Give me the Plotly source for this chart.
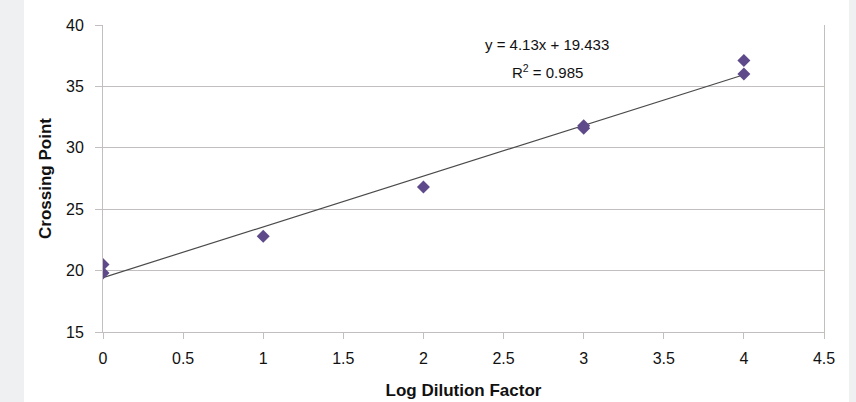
import plotly.graph_objects as go

log_dilution = [0, 0, 1, 2, 3, 3, 4, 4]
crossing_point = [20.5, 19.8, 22.8, 26.8, 31.8, 31.6, 37.1, 36.0]
slope = 4.13
intercept = 19.433
r_squared = 0.985
x_ticks = [0, 0.5, 1, 1.5, 2, 2.5, 3, 3.5, 4, 4.5]
y_ticks = [15, 20, 25, 30, 35, 40]

trend_x = [min(log_dilution), max(log_dilution)]
trend_y = [slope * v + intercept for v in trend_x]

grid = "#c3bfbf"
font = "Liberation Sans, Arial, sans-serif"

fig = go.Figure()
fig.add_trace(go.Scatter(x=trend_x, y=trend_y, mode="lines",
                         line=dict(color="#4a4a4a", width=1.2), showlegend=False, hoverinfo="skip"))
fig.add_trace(go.Scatter(x=log_dilution, y=crossing_point, mode="markers",
                         marker=dict(symbol="diamond", size=10, color="#5e4a8a"), showlegend=False))

fig.add_annotation(x=0.616, y=0.935, xref="paper", yref="paper", yanchor="middle",
                   text=f"y = {slope}x + {intercept}",
                   showarrow=False, font=dict(family=font, size=15, color="#111"))
fig.add_annotation(x=0.616, y=0.847, xref="paper", yref="paper", yanchor="middle",
                   text=f"R<sup>2</sup> = {r_squared}",
                   showarrow=False, font=dict(family=font, size=15, color="#111"))

W, H = 856, 402
ml, mr, mt, mb = 103, 32, 25, 70
pw, ph = W - ml - mr, H - mt - mb
fig.add_shape(type="rect", xref="paper", yref="paper", layer="below",
              x0=(24 - ml) / pw, x1=(849 - ml) / pw, y0=-mb / ph - 0.1, y1=1 + mt / ph + 0.1,
              fillcolor="white", line=dict(width=0))

fig.update_layout(
    width=W, height=H, margin=dict(l=ml, r=mr, t=mt, b=mb),
    paper_bgcolor="#eff0f2", plot_bgcolor="white",
    font=dict(family=font, size=16, color="#111"),
    xaxis=dict(range=[0, 4.5], tickvals=x_ticks, ticktext=[f"{v:g}" for v in x_ticks],
               showgrid=False, zeroline=False, showline=True, linecolor=grid, linewidth=1,
               ticks="outside", ticklen=6, tickcolor=grid, ticklabelstandoff=6, automargin=False,
               title=dict(text="<b>Log Dilution Factor</b>", font=dict(size=17), standoff=17)),
    yaxis=dict(range=[15, 40], tickvals=y_ticks, showgrid=True, gridcolor=grid, gridwidth=1,
               zeroline=False, showline=True, mirror=True, linecolor=grid, linewidth=1,
               ticks="outside", ticklen=7, tickcolor=grid, ticklabelstandoff=8, automargin=False,
               title=dict(text="<b>Crossing Point</b>", font=dict(size=17), standoff=10)),
)

fig.write_html("out.html", config={"displayModeBar": False},
               post_script="document.body.style.margin='0';document.body.style.overflow='hidden';")
